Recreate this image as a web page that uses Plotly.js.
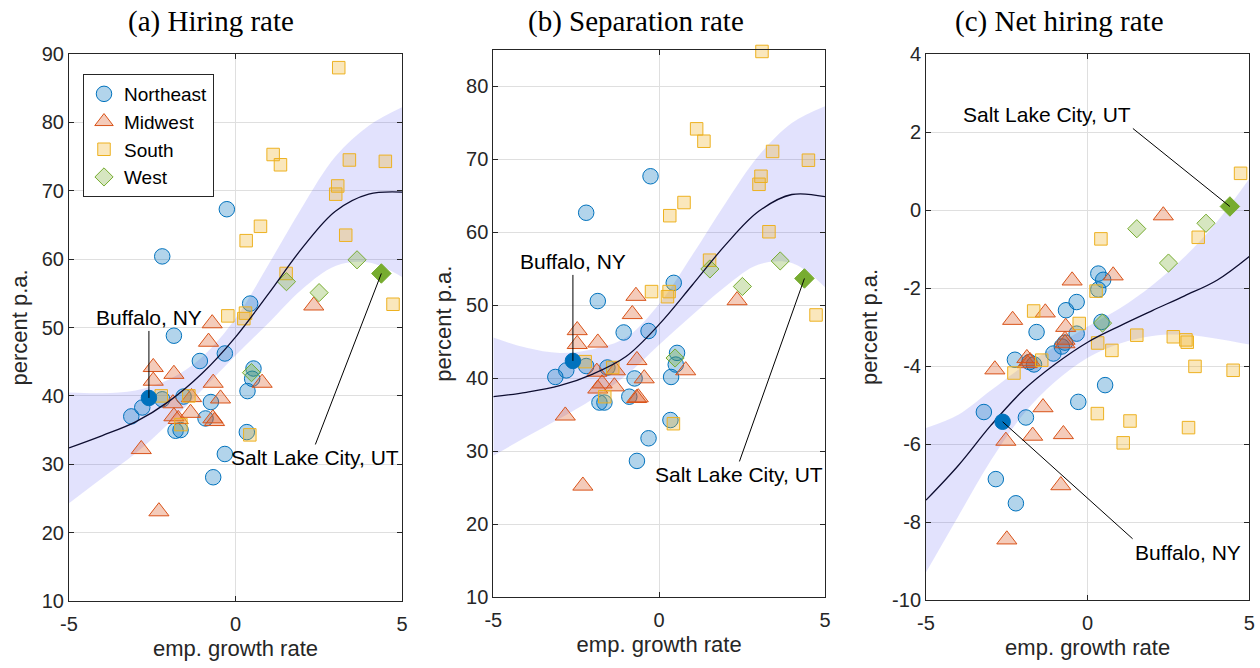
<!DOCTYPE html>
<html>
<head>
<meta charset="utf-8">
<script src="https://cdn.plot.ly/plotly-3.0.1.min.js"></script>
<style>
  html, body { margin: 0; padding: 0; background: #ffffff; }
  #chart { width: 1260px; height: 668px; }
</style>
</head>
<body>
<div id="chart"></div>
<script>
// ---- Metro-area data: employment growth (x) with hiring / separation rates ----
// Northeast
const empNE  = [-2.2, -0.26, 0.44, 0.54, 0.5, 0.36, 0.34, -0.32, -0.67, -1.85, -1.07, -0.32, -3.13, -2.8, -2.2, -1.56, -0.74, -0.9, -1.8, -1.65];
const hireNE = [60.4, 67.3, 53.5, 44.0, 42.5, 40.7, 34.7, 31.5, 28.1, 48.8, 45.1, 46.2, 37.0, 38.3, 39.5, 39.9, 39.1, 36.7, 34.9, 35.0];
const sepNE  = [62.7, 67.7, 53.1, 43.5, 41.9, 40.2, 34.3, 31.8, 28.7, 50.6, 46.3, 46.5, 40.2, 41.1, 41.7, 41.5, 40.0, 37.5, 36.7, 36.7];
// Midwest
const empMW  = [-0.7, -0.81, -2.47, -2.47, -1.85, -0.67, -0.45, 0.8, -1.88, -1.32, -1.35, -1.85, -1.72, -0.68, -0.63, -2.83, -2.3, 2.35];
const hireMW = [50.6, 47.9, 44.2, 42.2, 43.2, 41.9, 39.6, 41.9, 38.9, 39.8, 37.5, 37.0, 36.6, 36.7, 36.3, 32.2, 23.1, 53.2];
const sepMW  = [51.3, 48.8, 46.6, 44.7, 44.9, 42.5, 40.0, 41.1, 40.9, 41.1, 38.9, 38.6, 39.3, 37.3, 37.4, 34.9, 25.3, 50.7];
// South
const empS   = [3.1, 1.13, 1.35, 3.42, 4.5, 3.07, 3.01, 0.75, 0.32, 3.31, 1.52, 4.73, -0.23, 0.3, 0.25, -2.23, -1.4, -1.64, 0.43];
const hireS  = [88.0, 75.3, 73.8, 74.5, 74.3, 70.7, 69.5, 64.8, 62.7, 63.5, 57.9, 53.4, 51.7, 52.1, 51.3, 40.0, 40.0, 35.8, 34.3];
const sepS   = [84.8, 74.2, 72.5, 71.1, 69.9, 67.7, 66.6, 64.1, 62.3, 60.1, 56.2, 48.7, 51.9, 51.9, 51.2, 42.3, 41.5, 37.5, 33.8];
// West
const empW   = [0.48, 1.53, 2.51, 3.65];
const hireW  = [43.4, 56.7, 55.1, 59.9];
const sepW   = [42.8, 55.0, 52.6, 56.1];

// ---- Net hiring rate ----
const netEmpNE = [0.33, 0.48, 0.33, -0.34, -0.67, -1.58, -0.34, 0.43, -0.8, -1.06, -2.25, -1.66, -1.8, 0.54, -0.29, -3.21, -1.91, -2.84, -2.22, -0.7];
const netNE    = [-1.63, -1.79, -2.04, -2.36, -2.57, -3.13, -3.17, -2.87, -3.5, -3.68, -3.84, -3.96, -3.9, -4.49, -4.92, -5.18, -5.32, -6.9, -7.52, -3.4];
const netEmpMW = [2.34, -0.48, 0.79, -2.32, -1.31, -0.68, -0.7, -0.7, -1.88, -1.87, -1.78, -2.87, -1.38, -2.53, -1.7, -0.75, -0.83, -2.5];
const netMW    = [-0.14, -1.81, -1.68, -2.82, -2.63, -3.0, -3.33, -3.42, -3.8, -3.93, -3.88, -4.09, -5.06, -5.92, -5.79, -5.75, -7.06, -8.45];
const netEmpS  = [4.73, 3.42, 0.41, 0.26, -1.67, -0.26, 1.52, 2.65, 3.04, 3.08, 0.31, 0.75, -1.42, -2.28, 3.32, 4.5, 0.3, 1.31, 3.12, 1.1];
const netS     = [0.94, -0.7, -0.74, -2.08, -2.59, -2.91, -3.21, -3.25, -3.33, -3.39, -3.41, -3.6, -3.85, -4.18, -4.01, -4.11, -5.22, -5.41, -5.58, -5.97];
const netEmpW  = [0.46, 1.52, 2.5, 3.66];
const netW     = [-2.9, -0.48, -1.36, -0.34];

// ---- Highlighted cities ----
const cityNames  = ['Buffalo, NY', 'Salt Lake City, UT'];
const cityEmp    = [-2.6, 4.38];
const cityHire   = [39.7, 57.9];
const citySep    = [42.4, 53.7];
const cityNetEmp = [-2.63, 4.4];
const cityNet    = [-5.43, 0.09];

// ---- Fitted relationship and confidence band ----
const fitX    = [-5, -4, -3, -2, -1, 0, 1, 2, 3, 4, 5];
const hireFit = [32.4, 34.2, 36.2, 39.2, 43.3, 48.6, 55.0, 61.6, 67.0, 69.5, 69.8];
const hireHi  = [40.5, 40.4, 40.8, 42.4, 45.7, 51.3, 59.3, 67.6, 75.0, 79.5, 82.2];
const hireLo  = [24.3, 28.0, 31.6, 36.0, 40.9, 45.9, 50.7, 55.6, 59.0, 59.5, 57.4];
const sepFit  = [37.5, 38.1, 39.0, 40.6, 43.0, 47.4, 52.8, 58.3, 62.9, 65.2, 64.9];
const sepHi   = [45.6, 44.2, 43.5, 44.0, 45.6, 50.2, 56.9, 64.0, 70.5, 75.0, 77.3];
const sepLo   = [29.4, 32.0, 34.5, 37.2, 40.4, 44.6, 48.7, 52.6, 55.6, 55.8, 52.5];
const netFit  = [-7.44, -6.55, -5.53, -4.63, -3.95, -3.39, -2.97, -2.58, -2.2, -1.8, -1.19];
const netHi   = [-5.59, -5.25, -4.63, -4.01, -3.5, -2.99, -2.52, -1.93, -1.2, -0.3, 0.8];
const netLo   = [-9.29, -7.85, -6.43, -5.25, -4.4, -3.79, -3.42, -3.23, -3.2, -3.3, -3.45];

// ---- Ticks and titles ----
const empTicks  = [-5, 0, 5];
const hireTicks = [10, 20, 30, 40, 50, 60, 70, 80, 90];
const sepTicks  = [10, 20, 30, 40, 50, 60, 70, 80];
const netTicks  = [-10, -8, -6, -4, -2, 0, 2, 4];
const panelTitles = ['(a) Hiring rate', '(b) Separation rate', '(c) Net hiring rate'];
const regionNames = ['Northeast', 'Midwest', 'South', 'West'];
const xTitle = 'emp. growth rate';
const yTitle = 'percent p.a.';

// ---- Styling ----
const W = 1260, H = 668;
const SANS = 'Liberation Sans, Arial, Helvetica, sans-serif';
const SERIF = 'Palatino Linotype, Palatino, Book Antiqua, Liberation Serif, serif';
const INK = '#262626';
const px = v => v / W;             // horizontal pixel -> paper
const py = v => 1 - v / H;         // vertical pixel -> paper

const regionStyle = [
  { symbol: 'circle',      edge: '#0072BD', fill: 'rgba(0,114,189,0.30)',  size: 15.5 },
  { symbol: 'triangle-up', edge: '#D95319', fill: 'rgba(217,83,25,0.30)',  size: 17.5 },
  { symbol: 'square',      edge: '#EDB120', fill: 'rgba(237,177,32,0.30)', size: 12.5 },
  { symbol: 'diamond',     edge: '#77AC30', fill: 'rgba(119,172,48,0.30)', size: 14 }
];

const panels = [
  { xa: 'x',  ya: 'y',
    series: [[empNE, hireNE], [empMW, hireMW], [empS, hireS], [empW, hireW]],
    fit: hireFit, hi: hireHi, lo: hireLo, cx: cityEmp, cy: cityHire },
  { xa: 'x2', ya: 'y2',
    series: [[empNE, sepNE], [empMW, sepMW], [empS, sepS], [empW, sepW]],
    fit: sepFit, hi: sepHi, lo: sepLo, cx: cityEmp, cy: citySep },
  { xa: 'x3', ya: 'y3',
    series: [[netEmpNE, netNE], [netEmpMW, netMW], [netEmpS, netS], [netEmpW, netW]],
    fit: netFit, hi: netHi, lo: netLo, cx: cityNetEmp, cy: cityNet }
];

const traces = [];
panels.forEach((p, pi) => {
  // confidence band
  traces.push({ x: fitX, y: p.lo, xaxis: p.xa, yaxis: p.ya, type: 'scatter', mode: 'lines',
    line: { width: 0, shape: 'spline', smoothing: 1 }, hoverinfo: 'skip', showlegend: false });
  traces.push({ x: fitX, y: p.hi, xaxis: p.xa, yaxis: p.ya, type: 'scatter', mode: 'lines',
    fill: 'tonexty', fillcolor: 'rgba(60,60,240,0.15)',
    line: { width: 0, shape: 'spline', smoothing: 1 }, hoverinfo: 'skip', showlegend: false });
  // regional scatter
  p.series.forEach((s, ri) => {
    const st = regionStyle[ri];
    traces.push({ x: s[0], y: s[1], xaxis: p.xa, yaxis: p.ya, type: 'scatter', mode: 'markers',
      name: regionNames[ri], legendgroup: regionNames[ri], showlegend: pi === 0, cliponaxis: false,
      marker: { symbol: st.symbol, size: st.size, color: st.fill, line: { color: st.edge, width: 1 } } });
  });
  // fitted line
  traces.push({ x: fitX, y: p.fit, xaxis: p.xa, yaxis: p.ya, type: 'scatter', mode: 'lines',
    line: { color: '#0d0d30', width: 1.3, shape: 'spline', smoothing: 1 }, hoverinfo: 'skip', showlegend: false });
  // highlighted cities
  traces.push({ x: [p.cx[0]], y: [p.cy[0]], xaxis: p.xa, yaxis: p.ya, type: 'scatter', mode: 'markers',
    name: cityNames[0], showlegend: false, cliponaxis: false,
    marker: { symbol: 'circle', size: 15.5, color: '#0072BD', line: { color: '#0072BD', width: 1 } } });
  traces.push({ x: [p.cx[1]], y: [p.cy[1]], xaxis: p.xa, yaxis: p.ya, type: 'scatter', mode: 'markers',
    name: cityNames[1], showlegend: false, cliponaxis: false,
    marker: { symbol: 'diamond', size: 15, color: '#77AC30', line: { color: '#77AC30', width: 1 } } });
});

function xAxis(l, r, anchor) {
  return {
    domain: [px(l), px(r)], anchor: anchor, range: [-5, 5],
    tickvals: empTicks, ticktext: empTicks.map(String),
    showline: true, mirror: 'ticks', linecolor: INK, linewidth: 1,
    ticks: 'inside', ticklen: 5, tickcolor: INK, tickwidth: 1, ticklabelstandoff: 5,
    showgrid: true, gridcolor: '#dfdfdf', gridwidth: 1, zeroline: false,
    tickfont: { family: SANS, size: 20, color: INK },
    title: { text: xTitle, font: { family: SANS, size: 22, color: INK }, standoff: 6 },
    fixedrange: true
  };
}
function yAxis(b, t, anchor, range, ticks) {
  return {
    domain: [py(b), py(t)], anchor: anchor, range: range,
    tickvals: ticks, ticktext: ticks.map(String),
    showline: true, mirror: 'ticks', linecolor: INK, linewidth: 1,
    ticks: 'inside', ticklen: 5, tickcolor: INK, tickwidth: 1,
    showgrid: true, gridcolor: '#dfdfdf', gridwidth: 1, zeroline: false,
    tickfont: { family: SANS, size: 20, color: INK },
    title: { text: yTitle, font: { family: SANS, size: 22, color: INK }, standoff: 8 },
    fixedrange: true
  };
}

const annotations = [];
const titleCenters = [211, 636, 1059];
panelTitles.forEach((t, i) => {
  annotations.push({ text: t, xref: 'paper', yref: 'paper', x: px(titleCenters[i]), y: py(22),
    xanchor: 'center', yanchor: 'middle', showarrow: false,
    font: { family: SERIF, size: 29, color: '#000000' } });
});

function cityLabel(xref, yref, x, y, text, ax, ay, xanchor, yanchor) {
  return { xref: xref, yref: yref, x: x, y: y, text: text, showarrow: true,
    arrowhead: 0, arrowwidth: 1, arrowcolor: '#000000', standoff: 0,
    ax: ax, ay: ay, xanchor: xanchor, yanchor: yanchor,
    font: { family: SANS, size: 21, color: '#000000' } };
}
annotations.push(cityLabel('x',  'y',  cityEmp[0],    cityHire[0], cityNames[0], 0,   -67, 'center', 'bottom'));
annotations.push(cityLabel('x',  'y',  cityEmp[1],    cityHire[1], cityNames[1], -66, 171, 'center', 'top'));
annotations.push(cityLabel('x2', 'y2', cityEmp[0],    citySep[0],  cityNames[0], 0,   -86, 'center', 'bottom'));
annotations.push(cityLabel('x2', 'y2', cityEmp[1],    citySep[1],  cityNames[1], -65, 183, 'center', 'top'));
annotations.push(cityLabel('x3', 'y3', cityNetEmp[1], cityNet[1],  cityNames[1], -97, -78, 'right', 'bottom'));
annotations.push(cityLabel('x3', 'y3', cityNetEmp[0], cityNet[0],  cityNames[0], 130, 117, 'left', 'top'));

const layout = {
  width: W, height: H,
  margin: { l: 0, r: 0, t: 0, b: 0 },
  paper_bgcolor: '#ffffff', plot_bgcolor: '#ffffff',
  font: { family: SANS, size: 20, color: INK },
  showlegend: true,
  legend: {
    x: px(83), y: py(74), xanchor: 'left', yanchor: 'top',
    bgcolor: '#ffffff', bordercolor: INK, borderwidth: 1,
    font: { family: SANS, size: 19, color: '#000000' },
    tracegroupgap: 0, itemclick: false, itemdoubleclick: false
  },
  xaxis:  xAxis(69, 402, 'y'),
  yaxis:  yAxis(601, 54, 'x', [10, 90], hireTicks),
  xaxis2: xAxis(493.3, 825, 'y2'),
  yaxis2: yAxis(597.4, 50, 'x2', [10, 85], sepTicks),
  xaxis3: xAxis(926, 1249.3, 'y3'),
  yaxis3: yAxis(600, 54, 'x3', [-10, 4], netTicks),
  annotations: annotations,
  hovermode: false
};

Plotly.newPlot('chart', traces, layout, { staticPlot: true, displayModeBar: false });
</script>
</body>
</html>
